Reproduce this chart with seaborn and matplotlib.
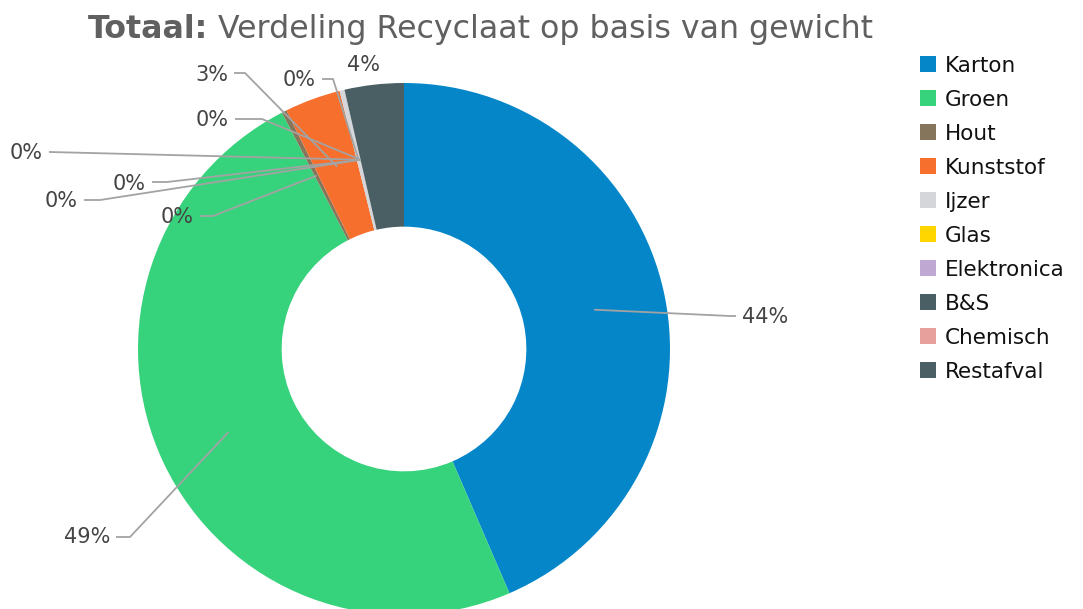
import matplotlib
matplotlib.use("Agg")
import matplotlib.pyplot as plt
import numpy as np
import seaborn as sns

categories = ["Karton", "Groen", "Hout", "Kunststof", "Ijzer", "Glas",
              "Elektronica", "B&S", "Chemisch", "Restafval"]
weights = [43.6, 49.0, 0.3, 3.4, 0.3, 0.0, 0.0, 0.0, 0.0, 3.6]
colors = ["#0586c9", "#37d27c", "#85755a", "#f76f2d", "#d5d6da",
          "#ffd600", "#bfa9d3", "#4a5f63", "#e8a09d", "#4a5f63"]

W, H = 1083, 609
CX, CY, R = 404, 349, 266


def px(x, y):
    # pixel position -> data units of the pie axes
    return (x - CX) / R, (CY - y) / R


# label layout in pixels: text x, text y, elbow x, elbow y, alignment
label_pos = {
    "Karton": (742, 317, 730, 316, "left"),
    "Groen": (110, 537, 130, 537, "right"),
    "Hout": (194, 217, 213, 216, "right"),
    "Kunststof": (228, 75, 245, 73, "right"),
    "Ijzer": (316, 80, 333, 79, "right"),
    "Glas": (229, 120, 262, 119, "right"),
    "Elektronica": (43, 153, 50, 152, "right"),
    "B&S": (146, 184, 167, 182, "right"),
    "Chemisch": (78, 201, 100, 200, "right"),
    "Restafval": (363, 65, None, None, "center"),
}

sns.set_theme(style="white")
plt.rcParams["font.family"] = ["DejaVu Sans"]

fig = plt.figure(figsize=(W / 100, H / 100), dpi=100)
ax = fig.add_axes([0, 0, 1, 1])

wedges, _ = ax.pie(weights, colors=colors, startangle=90, counterclock=False,
                   radius=1, wedgeprops=dict(width=0.54, linewidth=0))
ax.set_xlim(-CX / R, (W - CX) / R)
ax.set_ylim((CY - H) / R, CY / R)
ax.set_aspect("auto")
ax.axis("off")

total = sum(weights)
r_mid = 0.73
for w, cat, v in zip(wedges, categories, weights):
    ang = np.deg2rad((w.theta1 + w.theta2) / 2)
    ax_x, ax_y = r_mid * np.cos(ang), r_mid * np.sin(ang)
    tx, ty, ex, ey, ha = label_pos[cat]
    txt = "{:d}%".format(int(round(v / total * 100)))
    if ex is not None:
        ex_d, ey_d = px(ex, ey)
        end = tx - 6 if ha == "left" else tx + 6
        end_d, _ = px(end, ey)
        ax.plot([ax_x, ex_d, end_d], [ax_y, ey_d, ey_d], color="#a3a3a3", lw=1.3,
                solid_capstyle="butt", zorder=3)
    x_d, y_d = px(tx, ty)
    ax.text(x_d, y_d, txt, ha=ha, va="center", fontsize=15, color="#444444")

t1 = fig.text(88 / W, 1 - 38 / H, "Totaal:", fontsize=22.8, fontweight="bold",
              color="#606060", ha="left", va="baseline")
ax.annotate(" Verdeling Recyclaat op basis van gewicht", xy=(1, 0), xycoords=t1,
            fontsize=22.8, color="#606060", ha="left", va="bottom")

ax.legend(wedges, categories, loc="upper left", bbox_to_anchor=(909 / W, 1 - 45 / H),
          bbox_transform=fig.transFigure, frameon=False, fontsize=15.5,
          handlelength=0.75, handleheight=0.75, handletextpad=0.4,
          labelspacing=0.65, borderpad=0, labelcolor="#111111")

fig.savefig("out.png", dpi=100)
